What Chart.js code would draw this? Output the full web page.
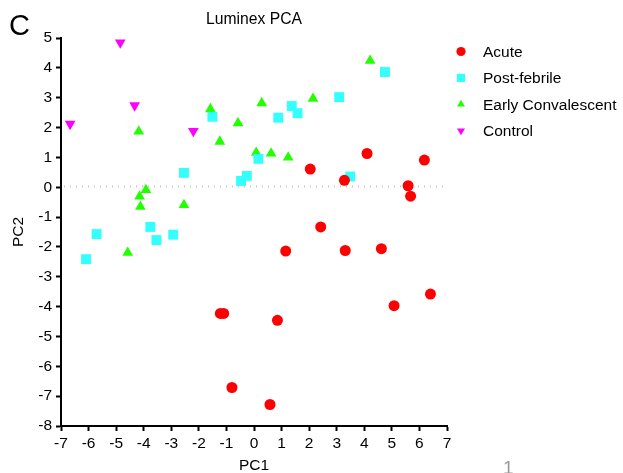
<!DOCTYPE html>
<html>
<head>
<meta charset="utf-8">
<title>Luminex PCA</title>
<script src="https://cdn.jsdelivr.net/npm/chart.js@4.4.1/dist/chart.umd.min.js"></script>
<style>
  body { margin: 0; background: #fff; font-family: "Liberation Sans", Arial, sans-serif; }
  .wrap { position: relative; width: 623px; height: 473px; }
  .wrap div { position: absolute; line-height: 1; white-space: nowrap; color: #000; }
  .panel { left: 9px; top: 11px; font-size: 29px; }
  .title { left: 61px; width: 386px; top: 11px; text-align: center; font-size: 15.7px; }
  .page { left: 503px; top: 458px; font-size: 19px; color: #999 !important; }
</style>
</head>
<body>
<div class="wrap">
  <canvas id="chart"></canvas>
  <div class="panel">C</div>
  <div class="title">Luminex PCA</div>
  <div class="page">1</div>
</div>
<script>
const acuteX = [2.04, 3.28, 4.10, 6.18, 5.59, 5.68, 2.42, 1.15, 3.31, 4.62, 6.40, 5.08, 0.85, -1.22, -1.10, -0.80, 0.58];
const acuteY = [0.61, 0.23, 1.13, 0.91, 0.05, -0.30, -1.33, -2.14, -2.12, -2.06, -3.58, -3.97, -4.46, -4.23, -4.23, -6.71, -7.28];

const postX = [-1.51, -2.54, -0.47, -0.26, -5.71, -6.09, -3.76, -3.54, -2.93, 0.16, 0.88, 1.37, 1.58, 3.09, 4.75, 3.49];
const postY = [2.36, 0.48, 0.21, 0.38, -1.57, -2.41, -1.33, -1.77, -1.59, 0.95, 2.33, 2.72, 2.48, 3.02, 3.86, 0.36];

const earlyX = [-4.18, -1.58, -1.24, -0.58, -3.92, -4.15, -4.12, -2.54, -4.58, 0.28, 2.14, 4.21, 0.08, 0.62, 1.24];
const earlyY = [1.87, 2.62, 1.53, 2.15, -0.09, -0.31, -0.65, -0.59, -2.19, 2.82, 2.97, 4.24, 1.16, 1.13, 1.00];

const controlX = [-4.85, -6.67, -4.33, -2.20];
const controlY = [4.85, 2.12, 2.74, 1.88];

const xTicks = [-7, 7];
const yTicks = [-8, 5];

const font = '"Liberation Sans", Arial, sans-serif';
const size = 15.5;

const toPoints = (xs, ys) => xs.map((x, i) => ({ x: x, y: ys[i] }));

const groups = [
  { label: 'Acute', xs: acuteX, ys: acuteY, color: '#ff0000', style: 'circle', radius: 5.5, rot: 0 },
  { label: 'Post-febrile', xs: postX, ys: postY, color: '#33ffff', style: 'rect', radius: 7, rot: 0 },
  { label: 'Early Convalescent', xs: earlyX, ys: earlyY, color: '#22ff00', style: 'triangle', radius: 6.2, rot: 0 },
  { label: 'Control', xs: controlX, ys: controlY, color: '#ff00ff', style: 'triangle', radius: 6.2, rot: 180 },
];

const datasets = groups.map((g) => ({
  label: g.label,
  data: toPoints(g.xs, g.ys),
  backgroundColor: g.color,
  borderColor: g.color,
  borderWidth: 0,
  pointStyle: g.style,
  pointRadius: g.radius,
  pointRotation: g.rot,
}));

// dotted line at y = 0 and the legend on the right
const extras = {
  id: 'extras',
  beforeDatasetsDraw(chart) {
    const { ctx, chartArea, scales } = chart;
    const y0 = Math.round(scales.y.getPixelForValue(0)) - 0.5;
    ctx.save();
    ctx.strokeStyle = '#c4c4c4';
    ctx.lineWidth = 2;
    ctx.setLineDash([1, 5]);
    ctx.beginPath();
    ctx.moveTo(chartArea.left + 3, y0);
    ctx.lineTo(chartArea.right, y0);
    ctx.stroke();
    ctx.restore();
  },
  afterDraw(chart) {
    const { ctx } = chart;
    ctx.save();
    groups.forEach((g, i) => {
      const y = 51.5 + i * 26.4;
      ctx.fillStyle = g.color;
      ctx.strokeStyle = g.color;
      ctx.lineWidth = 0;
      Chart.helpers.drawPoint(ctx, {
        pointStyle: g.style,
        radius: g.style === 'rect' ? 5.8 : 4.6,
        rotation: g.rot,
        borderWidth: 0,
      }, 461, y);
      ctx.fillStyle = '#000';
      ctx.font = size + 'px ' + font;
      ctx.textBaseline = 'middle';
      ctx.fillText(g.label, 483, y + 1);
    });
    ctx.restore();
  },
};

new Chart(document.getElementById('chart'), {
  type: 'scatter',
  data: { datasets: datasets },
  plugins: [extras],
  options: {
    responsive: true,
    maintainAspectRatio: false,
    animation: false,
    layout: { padding: { top: 38, right: 176, left: 0, bottom: 0 } },
    plugins: {
      legend: { display: false },
      tooltip: { enabled: false },
    },
    scales: {
      x: {
        type: 'linear',
        min: xTicks[0],
        max: xTicks[1],
        afterFit: (scale) => { scale.height = 47; },
        ticks: { stepSize: 1, color: '#000', padding: 3, font: { family: font, size: size } },
        grid: { drawOnChartArea: false, tickLength: 5, tickColor: '#000', tickWidth: 2 },
        border: { color: '#000', width: 2 },
        title: { display: true, text: 'PC1', color: '#000', font: { family: font, size: size }, padding: { top: 0, bottom: -2.5 } },
      },
      y: {
        type: 'linear',
        min: yTicks[0],
        max: yTicks[1],
        afterFit: (scale) => { scale.width = 61; },
        ticks: { stepSize: 1, color: '#000', padding: 4, font: { family: font, size: size } },
        grid: { drawOnChartArea: false, tickLength: 5, tickColor: '#000', tickWidth: 2 },
        border: { color: '#000', width: 2 },
        title: { display: true, text: 'PC2', color: '#000', font: { family: font, size: size }, padding: { top: 9, bottom: 0 } },
      },
    },
  },
});
</script>
</body>
</html>
